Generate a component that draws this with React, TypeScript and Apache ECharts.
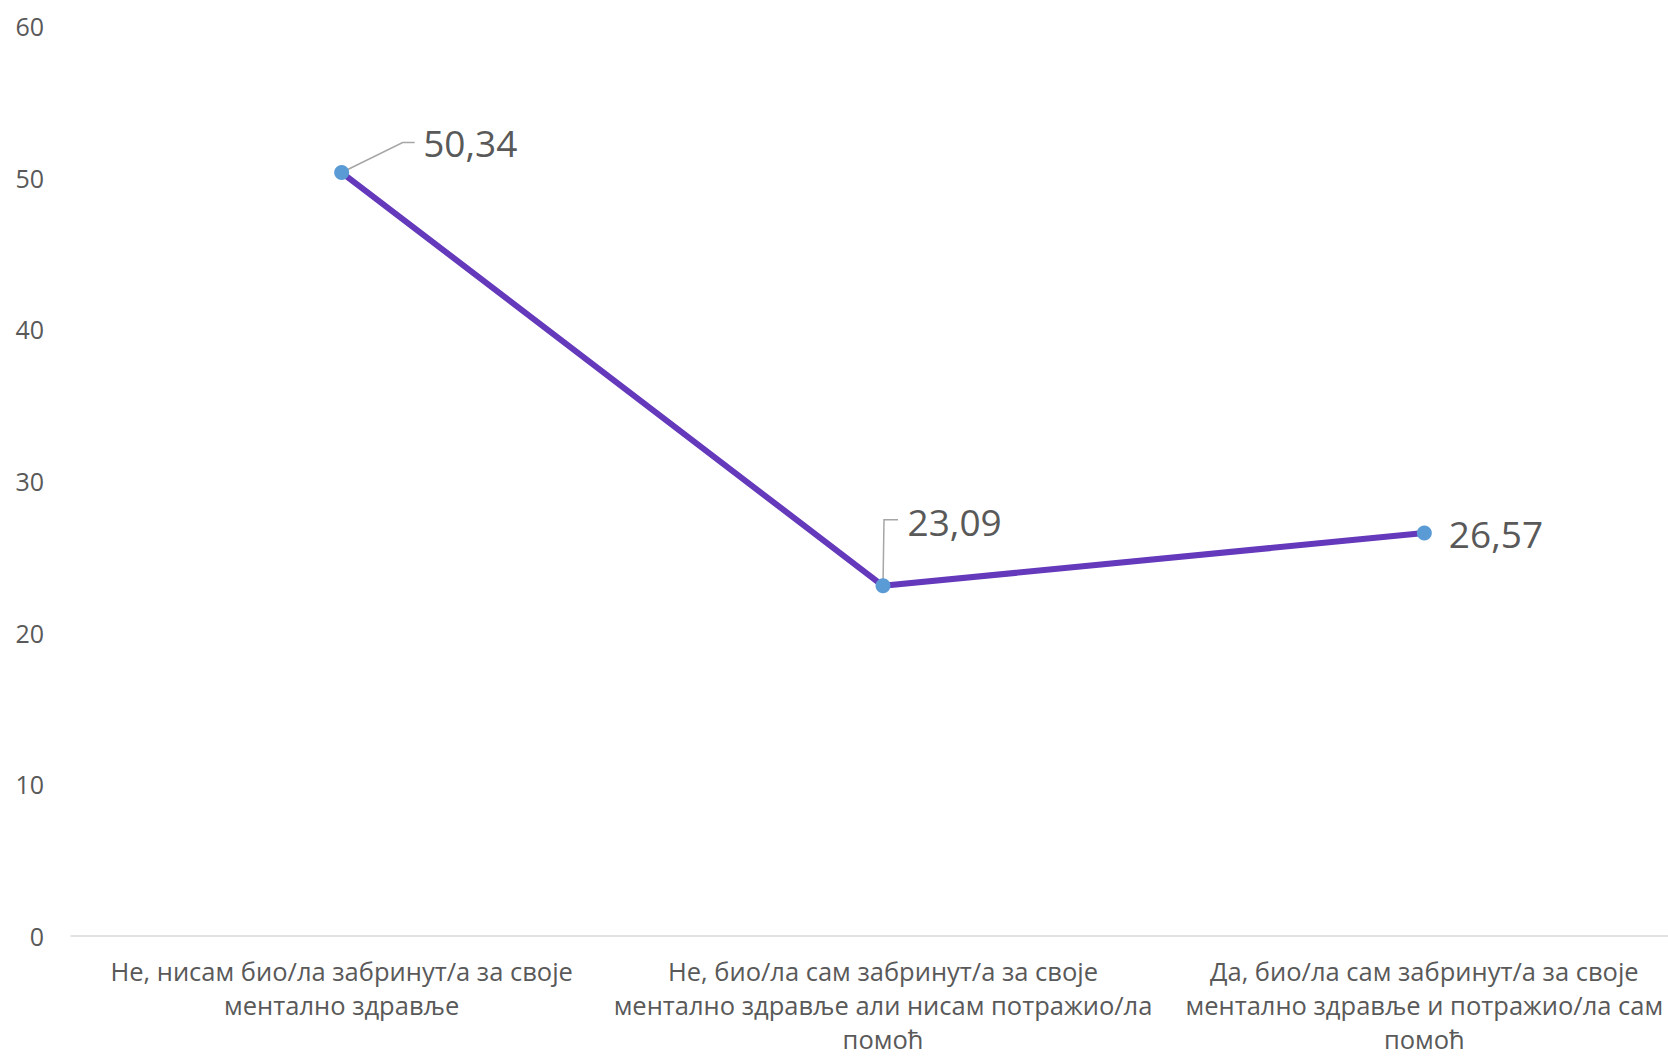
import React, { useEffect, useRef } from "react";
import * as echarts from "echarts";

const categories = [
  "Не, нисам био/ла забринут/а за своје\nментално здравље",
  "Не, био/ла сам забринут/а за своје\nментално здравље али нисам потражио/ла\nпомоћ",
  "Да, био/ла сам забринут/а за своје\nментално здравље и потражио/ла сам\nпомоћ",
];
const values = [50.34, 23.09, 26.57];
const yTicks = { min: 0, max: 60, interval: 10 };

// styling: label offsets and leader-line shapes relative to each point
const labelOffsets = [[74, -30], [17, -64], [17, 0]];
const leaderShapes: (number[][] | null)[] = [
  [[0, 0], [61, -30], [73, -30]],
  [[0, 0], [1, -66], [15, -66]],
  null,
];

const FONT = "'Open Sans', sans-serif";
const TEXT = "#595959";

export default function App() {
  const ref = useRef<HTMLDivElement>(null);
  useEffect(() => {
    if (!ref.current) return;
    const chart = echarts.init(ref.current, undefined, { renderer: "svg" });
    chart.setOption({
      animation: false,
      backgroundColor: "#ffffff",
      grid: {
        left: 71,
        top: 26,
        width: 1624,
        bottom: 121,
        containLabel: false,
        outerBoundsMode: "none",
      },
      xAxis: {
        type: "category",
        data: categories,
        boundaryGap: true,
        axisLine: { show: true, lineStyle: { color: "#D9D9D9", width: 1.5 } },
        axisTick: { show: false },
        axisLabel: {
          color: TEXT,
          fontFamily: FONT,
          fontSize: 25.5,
          lineHeight: 34,
          margin: 18,
          interval: 0,
          align: "center",
        },
        splitLine: { show: false },
      },
      yAxis: {
        type: "value",
        min: yTicks.min,
        max: yTicks.max,
        interval: yTicks.interval,
        axisLine: { show: false },
        axisTick: { show: false },
        splitLine: { show: false },
        axisLabel: { color: TEXT, fontFamily: FONT, fontSize: 25, margin: 27 },
      },
      series: [
        {
          type: "custom",
          z: 1,
          data: values.map((v, i) => [i, v]),
          encode: { x: 0, y: 1 },
          silent: true,
          renderItem: (params: any, api: any) => {
            const i = params.dataIndex;
            const shape = leaderShapes[i];
            if (!shape) return { type: "group", children: [] };
            const pt = api.coord([api.value(0), api.value(1)]);
            return {
              type: "polyline",
              shape: { points: shape.map((p) => [pt[0] + p[0], pt[1] + p[1]]) },
              style: { stroke: "#A6A6A6", lineWidth: 1.5, fill: "none" },
            };
          },
        },
        {
          type: "line",
          z: 2,
          data: values.map((v, i) => ({
            value: v,
            label: {
              show: true,
              position: "right",
              distance: 0,
              offset: labelOffsets[i],
            },
          })),
          symbol: "circle",
          symbolSize: 15,
          itemStyle: { color: "#5B9BD5" },
          lineStyle: { color: "#6439BB", width: 6 },
          label: {
            show: true,
            color: TEXT,
            fontFamily: FONT,
            fontSize: 37,
            formatter: (p: any) => String(p.value).replace(".", ","),
          },
        },
      ],
    });
    return () => chart.dispose();
  }, []);
  return (
    <div style={{ position: "fixed", left: 0, top: 0, width: 1668, height: 1057, overflow: "hidden", background: "#fff" }}>
      <div ref={ref} style={{ width: 1700, height: 1057 }} />
    </div>
  );
}
